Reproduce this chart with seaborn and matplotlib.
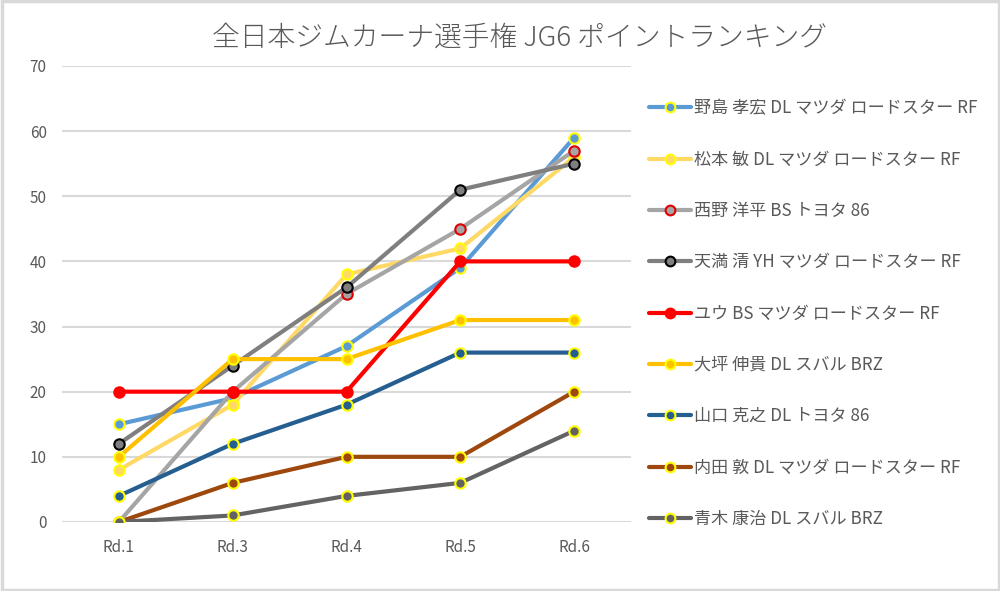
import matplotlib
matplotlib.use("Agg")
import matplotlib.pyplot as plt
import seaborn as sns
import pandas as pd
from matplotlib.lines import Line2D
from matplotlib.patches import Rectangle

rounds = ["Rd.1", "Rd.3", "Rd.4", "Rd.5", "Rd.6"]

names = [
    "野島 孝宏 DL マツダ ロードスター RF",
    "松本 敏 DL マツダ ロードスター RF",
    "西野 洋平 BS トヨタ 86",
    "天満 清 YH マツダ ロードスター RF",
    "ユウ BS マツダ ロードスター RF",
    "大坪 伸貴 DL スバル BRZ",
    "山口 克之 DL トヨタ 86",
    "内田 敦 DL マツダ ロードスター RF",
    "青木 康治 DL スバル BRZ",
]

nojima = [15, 19, 27, 39, 59]
matsumoto = [8, 18, 38, 42, 56]
nishino = [0, 20, 35, 45, 57]
tenma = [12, 24, 36, 51, 55]
yuu = [20, 20, 20, 40, 40]
otsubo = [10, 25, 25, 31, 31]
yamaguchi = [4, 12, 18, 26, 26]
uchida = [0, 6, 10, 10, 20]
aoki = [0, 1, 4, 6, 14]

series = [nojima, matsumoto, nishino, tenma, yuu, otsubo, yamaguchi, uchida, aoki]

line_colors = ["#5B9BD5", "#FFD966", "#A5A5A5", "#7F7F7F", "#FF0000",
               "#FFC000", "#255E91", "#9E480E", "#636363"]
marker_faces = ["#5B9BD5", "#FFD966", "#A5A5A5", "#7F7F7F", "#FF0000",
                "#FFC000", "#255E91", "#9E480E", "#636363"]
marker_edges = ["#FFFF00", "#FFFF00", "#E00000", "#000000", "#FF0000",
                "#FFFF00", "#FFFF00", "#FFFF00", "#FFFF00"]

sns.set_theme(style="white")
plt.rcParams['font.family'] = ['Noto Sans CJK JP', 'DejaVu Sans']

txt = "#595959"
fig = plt.figure(figsize=(10, 5.91), dpi=100)
ax = fig.add_axes([0.062, 0.1168, 0.569, 0.7716])

rows = []
for name, vals in zip(names, series):
    for r, v in zip(rounds, vals):
        rows.append({"round": r, "points": v, "driver": name})
df = pd.DataFrame(rows)

handles = []
for i, name in enumerate(names):
    sub = df[df["driver"] == name]
    sns.lineplot(data=sub, x="round", y="points", ax=ax, color=line_colors[i],
                 linewidth=3, marker="o", markersize=7.5,
                 markerfacecolor=marker_faces[i], markeredgecolor=marker_edges[i],
                 markeredgewidth=1.5, sort=False, legend=False, zorder=3 + i * 0.01)
    handles.append(Line2D([0], [0], color=line_colors[i], linewidth=3, marker="o",
                          markersize=7, markerfacecolor=marker_faces[i],
                          markeredgecolor=marker_edges[i], markeredgewidth=1.5))

ax.set_xlim(-0.5, 4.5)
ax.set_ylim(0, 70)
ax.set_yticks(range(0, 71, 10))
ax.yaxis.grid(True, color="#D9D9D9", linewidth=1.5)
ax.xaxis.grid(False)
for s in ax.spines.values():
    s.set_visible(False)
ax.set_xlabel("")
ax.set_ylabel("")
ax.tick_params(axis="both", colors=txt, labelsize=11, length=0)
ax.tick_params(axis="x", pad=12)
ax.tick_params(axis="y", pad=11)

fig.text(0.519, 0.936, "全日本ジムカーナ選手権 JG6 ポイントランキング",
         ha="center", va="center", fontsize=20, color=txt, fontweight="light")

leg = fig.legend(handles, names, loc="upper left", bbox_to_anchor=(0.634, 0.858),
                 frameon=False, fontsize=12.3, labelspacing=1.95, handlelength=2.45,
                 handletextpad=0.15, numpoints=1)
for t in leg.get_texts():
    t.set_color(txt)

fig.patches.append(Rectangle((0.0015, 0.0025), 0.997, 0.995, transform=fig.transFigure,
                             fill=False, edgecolor="#D9D9D9", linewidth=2.5))

fig.savefig("out.png", dpi=100)
